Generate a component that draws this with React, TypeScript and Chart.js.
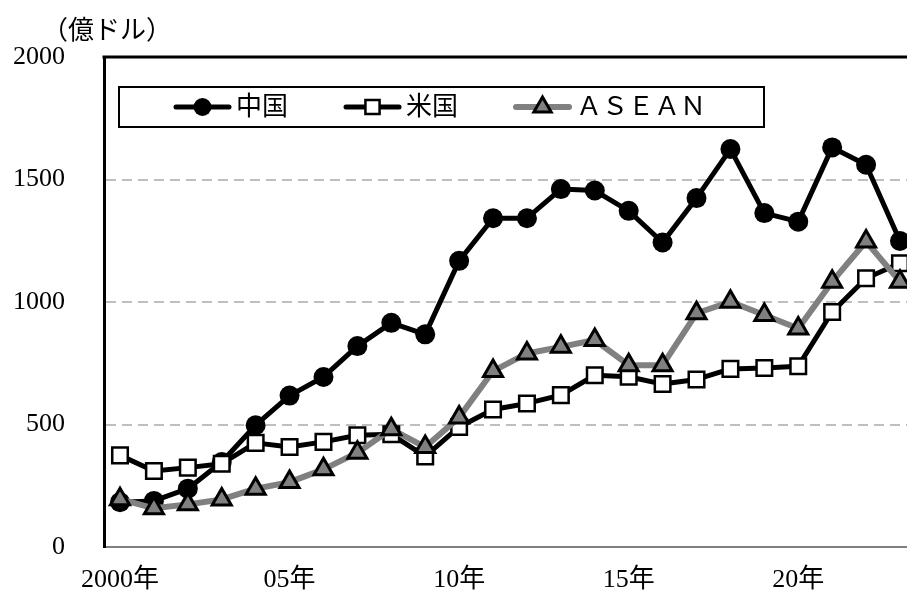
import React, { useEffect, useRef } from "react";
import { Chart, registerables } from "chart.js";

Chart.register(...registerables);

const years = [2000, 2001, 2002, 2003, 2004, 2005, 2006, 2007, 2008, 2009, 2010, 2011, 2012, 2013, 2014, 2015, 2016, 2017, 2018, 2019, 2020, 2021, 2022, 2023];
const china = [183, 188, 238, 347, 497, 618, 694, 820, 915, 868, 1168, 1342, 1342, 1461, 1455, 1372, 1243, 1424, 1624, 1363, 1328, 1631, 1560, 1249];
const usa = [374, 310, 324, 340, 425, 408, 429, 456, 460, 370, 490, 561, 586, 620, 701, 695, 665, 684, 727, 731, 738, 959, 1097, 1158];
const asean = [195, 158, 174, 194, 238, 265, 317, 385, 481, 408, 529, 718, 790, 817, 845, 742, 742, 954, 1001, 947, 892, 1083, 1247, 1083];

const seriesNames = ["中国", "米国", "ＡＳＥＡＮ"];
const xTickValues = [2000, 2005, 2010, 2015, 2020];
const xTickLabels = ["2000年", "05年", "10年", "15年", "20年"];
const yUnit = "（億ドル）";

const FONT = "'Liberation Serif', 'Noto Sans CJK JP', serif";

function drawMarker(ctx: CanvasRenderingContext2D, style: string, x: number, y: number, r: number, fill: string, stroke: string, bw: number) {
  ctx.save();
  ctx.beginPath();
  if (style === "circle") {
    ctx.arc(x, y, r, 0, Math.PI * 2);
  } else if (style === "rect") {
    const s = r * Math.SQRT1_2;
    ctx.rect(x - s, y - s, 2 * s, 2 * s);
  } else {
    ctx.moveTo(x, y - r);
    ctx.lineTo(x + r * Math.sin((2 * Math.PI) / 3), y - r * Math.cos((2 * Math.PI) / 3));
    ctx.lineTo(x + r * Math.sin((4 * Math.PI) / 3), y - r * Math.cos((4 * Math.PI) / 3));
    ctx.closePath();
  }
  ctx.fillStyle = fill;
  ctx.fill();
  if (bw > 0) {
    ctx.lineWidth = bw;
    ctx.strokeStyle = stroke;
    ctx.lineJoin = "miter";
    ctx.stroke();
  }
  ctx.restore();
}

const decorPlugin = {
  id: "decor",
  afterDraw(chart: any) {
    const ctx: CanvasRenderingContext2D = chart.ctx;
    const a = chart.chartArea;
    ctx.save();
    // top border
    ctx.beginPath();
    ctx.strokeStyle = "#000";
    ctx.lineWidth = 3;
    ctx.moveTo(a.left - 1.5, a.top);
    ctx.lineTo(a.right + 5, a.top);
    ctx.stroke();

    // unit label
    ctx.font = `26px ${FONT}`;
    ctx.fillStyle = "#000";
    ctx.textAlign = "left";
    ctx.textBaseline = "middle";
    ctx.fillText(yUnit, a.left - 62, a.top - 25);

    // legend box
    const bx = a.left + 15, by = a.top + 30, bw = 645, bh = 40;
    ctx.fillStyle = "#fff";
    ctx.fillRect(bx, by, bw, bh);
    ctx.lineWidth = 2;
    ctx.strokeStyle = "#000";
    ctx.strokeRect(bx, by, bw, bh);

    const ds = chart.data.datasets;
    const starts = [bx + 55, bx + 225, bx + 395];
    const cy = by + bh / 2;
    ds.forEach((d: any, i: number) => {
      const x1 = starts[i];
      ctx.beginPath();
      ctx.lineCap = "round";
      ctx.lineWidth = d.borderWidth;
      ctx.strokeStyle = d.borderColor;
      ctx.moveTo(x1 + 2, cy);
      ctx.lineTo(x1 + 55, cy);
      ctx.stroke();
      drawMarker(ctx, d.pointStyle, x1 + 28.5, cy, d.legendRadius, d.pointBackgroundColor, d.pointBorderColor, d.pointBorderWidth);
      ctx.font = `26px ${FONT}`;
      ctx.fillStyle = "#000";
      ctx.textAlign = "left";
      ctx.textBaseline = "middle";
      ctx.fillText(d.label, x1 + 62, cy + 1);
    });
    ctx.restore();
  },
};

export default function App() {
  const ref = useRef<HTMLCanvasElement>(null);
  useEffect(() => {
    if (!ref.current) return;
    const pts = (arr: number[]) => years.map((yr, i) => ({ x: yr, y: arr[i] }));
    const chart = new Chart(ref.current, {
      type: "line",
      data: {
        datasets: [
          {
            label: seriesNames[0],
            data: pts(china),
            borderColor: "#000",
            borderWidth: 5,
            pointStyle: "circle",
            pointRadius: 10,
            pointBackgroundColor: "#000",
            pointBorderColor: "#000",
            pointBorderWidth: 0,
            legendRadius: 9,
            order: 2,
            clip: false,
            borderJoinStyle: "round",
            borderCapStyle: "round",
          } as any,
          {
            label: seriesNames[1],
            data: pts(usa),
            borderColor: "#000",
            borderWidth: 5,
            pointStyle: "rect",
            pointRadius: 11,
            pointBackgroundColor: "#fff",
            pointBorderColor: "#000",
            pointBorderWidth: 2.5,
            legendRadius: 10,
            order: 1,
            clip: false,
            borderJoinStyle: "round",
            borderCapStyle: "round",
          } as any,
          {
            label: seriesNames[2],
            data: pts(asean),
            borderColor: "#808080",
            borderWidth: 6,
            pointStyle: "triangle",
            pointRadius: 11,
            pointBackgroundColor: "#808080",
            pointBorderColor: "#000",
            pointBorderWidth: 3,
            legendRadius: 10,
            order: 0,
            clip: false,
            borderJoinStyle: "round",
            borderCapStyle: "round",
          } as any,
        ],
      },
      options: {
        animation: false,
        responsive: false,
        layout: { autoPadding: false, padding: { top: 57, left: 0, right: 0, bottom: 0 } },
        plugins: { legend: { display: false }, tooltip: { enabled: false }, title: { display: false } },
        scales: {
          x: {
            type: "linear",
            min: 1999.528,
            max: 2023.207,
            afterFit: (s: any) => { s.height = 48; s.paddingLeft = 0; s.paddingRight = 0; },
            afterBuildTicks: (s: any) => { s.ticks = xTickValues.map((v) => ({ value: v })); },
            ticks: {
              autoSkip: false,
              maxRotation: 0,
              padding: 18,
              color: "#000",
              font: { family: FONT, size: 26 },
              callback: (v: any) => {
                const i = xTickValues.indexOf(Number(v));
                return i >= 0 ? xTickLabels[i] : "";
              },
            },
            grid: { display: false, drawTicks: false },
            border: { display: true, color: "#7f7f7f", width: 2 },
          },
          y: {
            min: 0,
            max: 2000,
            afterFit: (s: any) => { s.width = 104; s.paddingTop = 0; s.paddingBottom = 0; },
            ticks: {
              stepSize: 500,
              padding: 39,
              color: "#000",
              font: { family: FONT, size: 26 },
              callback: (v: any) => String(v),
            },
            grid: {
              drawTicks: false,
              lineWidth: 2,
              color: (c: any) => (c.tick && (c.tick.value === 0 || c.tick.value === 2000) ? "rgba(0,0,0,0)" : "#bfbfbf"),
            },
            border: { display: true, color: "#000", width: 3, dash: [10, 6] },
          },
        },
      },
      plugins: [decorPlugin],
    } as any);
    return () => chart.destroy();
  }, []);
  return (
    <div style={{ position: "fixed", left: 0, top: 0, width: 907, height: 595, background: "#fff", overflow: "hidden" }}>
      <canvas ref={ref} width={907} height={595} style={{ width: 907, height: 595, display: "block" }} />
    </div>
  );
}
